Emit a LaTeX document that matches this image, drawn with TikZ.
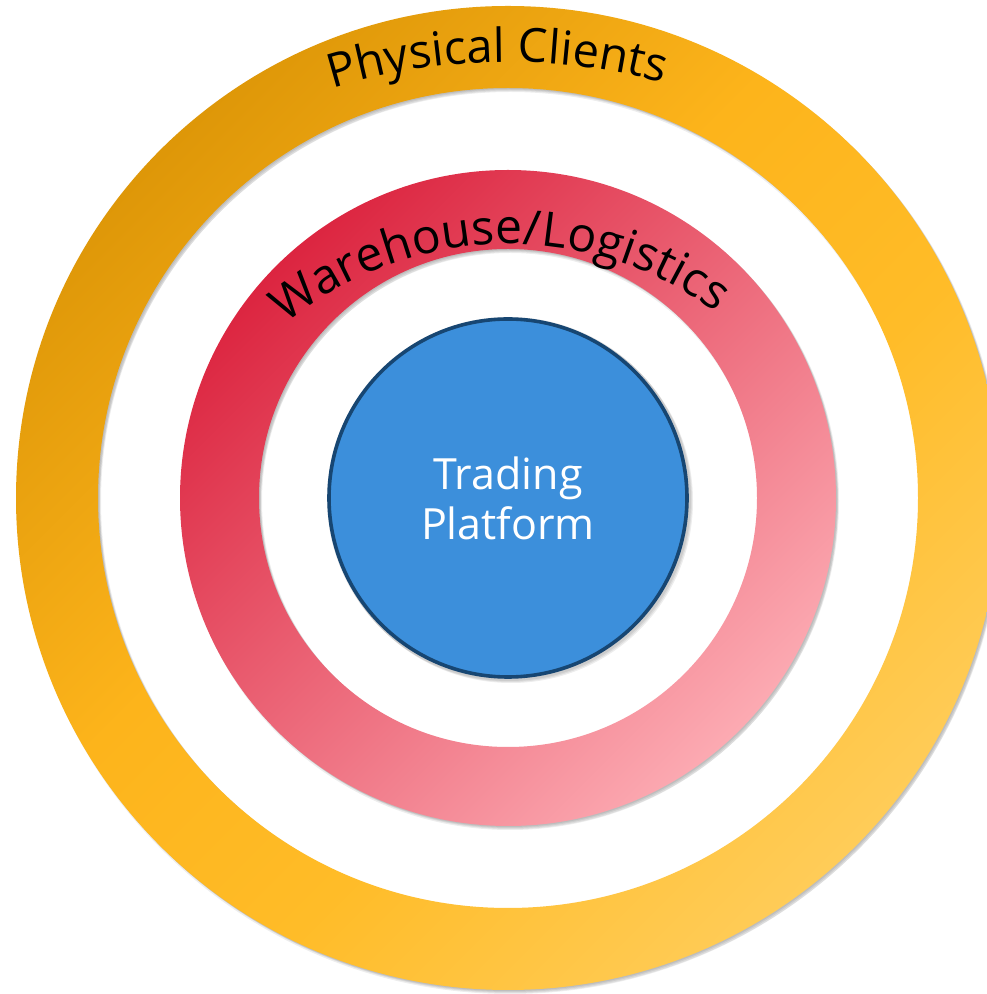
\documentclass[tikz,border=0pt]{standalone}
\usepackage{fontspec}
\setmainfont{Open Sans}
\usetikzlibrary{decorations.text}
\definecolor{orTL}{HTML}{DE9708}
\definecolor{orM}{HTML}{FDB41B}
\definecolor{orM2}{HTML}{FFBC28}
\definecolor{orBR}{HTML}{FFCC58}
\definecolor{pkTL}{HTML}{DC2540}
\definecolor{pkM}{HTML}{F67282}
\definecolor{pkBR}{HTML}{FCAAB2}
\definecolor{tpFill}{HTML}{3C8FDB}
\definecolor{tpLine}{HTML}{174672}
\pgfdeclareverticalshading{orangering}{100bp}{color(0bp)=(orBR); color(25bp)=(orBR); color(42bp)=(orM2); color(56bp)=(orM); color(75bp)=(orTL); color(100bp)=(orTL)}
\tikzset{
  ringshadow/.style={fill=black,opacity=0.07,even odd rule},
  arctext/.style={decorate,decoration={text along path,text align=center,text color=black}},
  platform/.style={circle,fill=tpFill,draw=tpLine,line width=3.6pt,minimum size=358pt,inner sep=0pt,
    text=white,align=center,font=\fontsize{43}{50}\selectfont}
}
\begin{document}
\begin{tikzpicture}[x=1pt,y=1pt]
\useasboundingbox (0,0) rectangle (987,994);
\fill[white] (0,0) rectangle (987,994);
\coordinate (c) at (508,496);
\coordinate (pc) at (508,342);
\coordinate (wc) at (508,401);
% outer ring shadow
\foreach \dx/\dy in {1/-1,2/-2,3/-3,2/-4}{
  \fill[ringshadow] ([shift={(\dx,\dy)}]c) circle (492) ([shift={(\dx,\dy)}]c) circle (410);
}
\shade[even odd rule,shading=orangering,shading angle=45]
  (c) circle (492) (c) circle (410);
% middle ring shadow
\foreach \dx/\dy in {1/-1,2/-2,3/-3,2/-4}{
  \fill[ringshadow] ([shift={(\dx,\dy)}]c) circle (328) ([shift={(\dx,\dy)}]c) circle (249);
}
\shade[even odd rule,top color=pkTL,middle color=pkM,bottom color=pkBR,shading angle=45]
  (c) circle (328) (c) circle (249);
% centre shadow
\foreach \dx/\dy in {1/-1,2/-2,3/-3}{
  \fill[fill=black,opacity=0.07] ([shift={(\dx,\dy)}]c) circle (182);
}
\node[platform] (tp) at (c) {Trading\\Platform};
% curved labels
\path[arctext,decoration={text={|\fontsize{47}{47}\selectfont|Physical Clients}}]
  ([shift={(120:590)}]pc) arc[start angle=120,end angle=62,radius=590];
\path[arctext,decoration={text={|\fontsize{48}{48}\selectfont|Warehouse/Logistics}}]
  ([shift={(136:349)}]wc) arc[start angle=136,end angle=47,radius=349];
\end{tikzpicture}
\end{document}
